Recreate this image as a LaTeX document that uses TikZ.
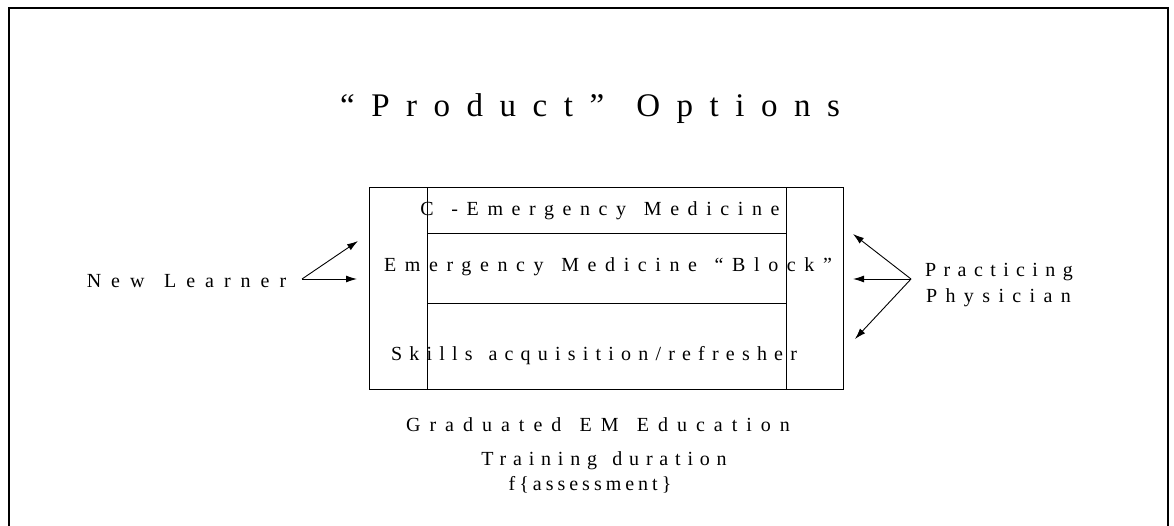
\documentclass[tikz,border=0pt]{standalone}
\usepackage{fontspec}
\setmainfont{Liberation Serif}[LetterSpace=43, WordSpace=1.3]
\newfontfamily\titlefont{Liberation Serif}[LetterSpace=50, WordSpace=1.3]
\usepackage{tikz}
\usetikzlibrary{positioning}
\usetikzlibrary{arrows.meta}
\tikzset{
  label text/.style={font=\fontsize{20}{24}\selectfont\addfontfeatures{LetterSpace=#1}, inner sep=0pt, anchor=base},
  label text/.default=43,
  box line/.style={line width=1pt},
  option edge/.style={-{Latex[length=11pt,width=7pt]}, line width=0.9pt},
}

\begin{document}
\begin{tikzpicture}[x=1pt, y=-1pt]

  \useasboundingbox (0,0) rectangle (1174,525);
  \draw[line width=2pt] (9,540) -- (9,7.5) -- (1168,7.5) -- (1168,540);

  % Define nodes
  \node[inner sep=0pt, anchor=base, font=\titlefont\fontsize{33}{40}\selectfont] (title) at (590,116) {“Product” Options};

  \node[label text=43] (cme) at (600,215) {C -Emergency Medicine};
  \node[label text=43] (block) at (608,271) {Emergency Medicine “Block”};
  \node[label text=36] (skills) at (594,360) {Skills acquisition/refresher};

  \node[label text=50] (learner) at (186.5,287) {New Learner};
  \node[label text=37] (practicing) at (999,276) {Practicing};
  \node[label text=42] (physician) at (998.5,302) {Physician};

  \node[label text=45] (graduated) at (598,431) {Graduated EM Education};
  \node[label text=34] (duration) at (604,465) {Training duration};
  \node[label text=20] (assessment) at (590,490) {f\{assessment\}};

  % Box
  \coordinate (box_nw) at (369,187);
  \coordinate (box_se) at (843,389);
  \coordinate (col_l_top) at (427,187);
  \coordinate (col_l_bot) at (427,389);
  \coordinate (col_r_top) at (786,187);
  \coordinate (col_r_bot) at (786,389);
  \coordinate (row_1_l) at (427,233);
  \coordinate (row_1_r) at (786,233);
  \coordinate (row_2_l) at (427,303);
  \coordinate (row_2_r) at (786,303);

  \draw[box line] (box_nw) rectangle (box_se);
  \draw[box line] (col_l_top) -- (col_l_bot);
  \draw[box line] (col_r_top) -- (col_r_bot);
  \draw[box line] (row_1_l) -- (row_1_r);
  \draw[box line] (row_2_l) -- (row_2_r);

  % Connect nodes
  \coordinate (nl_fork) at (302,279);
  \coordinate (nl_top) at (358,241);
  \coordinate (nl_mid) at (357,279);
  \coordinate (pp_fork) at (911,279);
  \coordinate (pp_top) at (853,234);
  \coordinate (pp_mid) at (853,279);
  \coordinate (pp_low) at (855,339);

  \draw[option edge] (nl_fork) -- (nl_top);
  \draw[option edge] (nl_fork) -- (nl_mid);
  \draw[option edge] (pp_fork) -- (pp_top);
  \draw[option edge] (pp_fork) -- (pp_mid);
  \draw[option edge] (pp_fork) -- (pp_low);

\end{tikzpicture}
\end{document}
